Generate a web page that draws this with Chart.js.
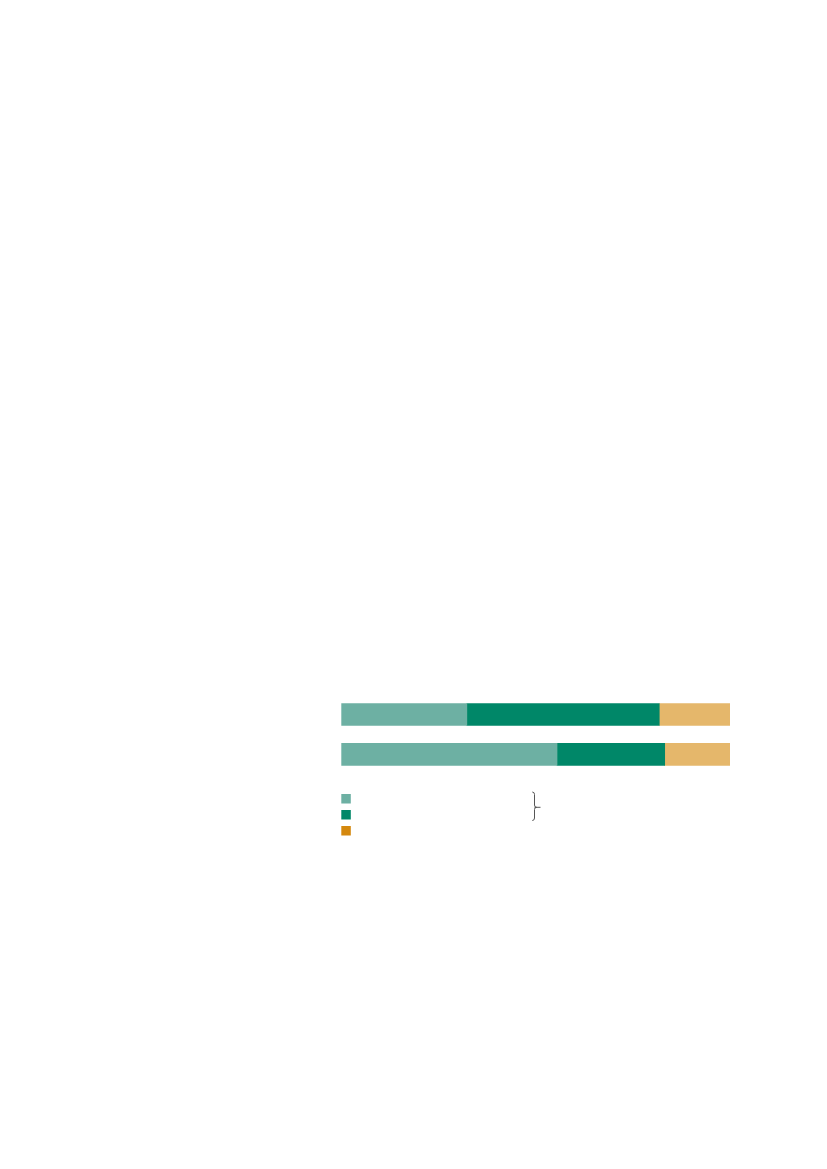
<!DOCTYPE html>
<html>
<head>
<meta charset="utf-8">
<script src="https://cdn.jsdelivr.net/npm/chart.js@4/dist/chart.umd.min.js"></script>
<style>
  html, body { margin: 0; padding: 0; background: #ffffff; }
  #wrap { width: 827px; height: 1169px; position: relative; }
</style>
</head>
<body>
<div id="wrap"><canvas id="c" width="827" height="1169"></canvas></div>
<script>
// ---- data ----
const categories = ["A", "B"];
const seriesNames = ["Series 1", "Series 2", "Series 3"];
const series1 = [32.3, 55.5];
const series2 = [49.5, 27.7];
const series3 = [18.2, 16.8];

// ---- styles ----
const barColors = ["#6db0a3", "#008768", "#e5b76b"];
const legendColors = ["#6db0a3", "#008768", "#d4880e"];

const legendPlugin = {
  id: 'customLegend',
  afterDraw(chart) {
    const ctx = chart.ctx;
    const left = chart.chartArea.left;
    const size = 9.5;
    const y0 = 794;
    const step = 16;
    ctx.save();
    legendColors.forEach((c, i) => {
      ctx.fillStyle = c;
      ctx.fillRect(left, y0 + i * step, size, size);
    });
    // brace
    ctx.strokeStyle = '#555555';
    ctx.lineWidth = 1;
    ctx.beginPath();
    ctx.moveTo(532.3, 792);
    ctx.quadraticCurveTo(534.5, 792, 534.5, 794.5);
    ctx.lineTo(534.5, 805);
    ctx.quadraticCurveTo(534.5, 807.3, 536.5, 807.3);
    ctx.quadraticCurveTo(534.5, 807.3, 534.5, 809.6);
    ctx.lineTo(534.5, 818);
    ctx.quadraticCurveTo(534.5, 820.5, 532.3, 820.5);
    ctx.stroke();
    ctx.beginPath();
    ctx.moveTo(534.5, 807.3);
    ctx.lineTo(540.5, 807.3);
    ctx.stroke();
    ctx.restore();
  }
};

const datasets = [series1, series2, series3].map((d, i) => ({
  label: seriesNames[i],
  data: d,
  backgroundColor: barColors[i],
  borderWidth: 0,
  barThickness: 22,
  stack: 's'
}));

new Chart(document.getElementById('c'), {
  type: 'bar',
  data: { labels: categories, datasets },
  options: {
    indexAxis: 'y',
    responsive: false,
    animation: false,
    layout: { padding: { left: 341.3, right: 97, top: 694.6, bottom: 394.8 } },
    plugins: { legend: { display: false }, tooltip: { enabled: false } },
    scales: {
      x: { stacked: true, min: 0, max: 100, display: false },
      y: { stacked: true, display: false, offset: true }
    }
  },
  plugins: [legendPlugin]
});
</script>
</body>
</html>
